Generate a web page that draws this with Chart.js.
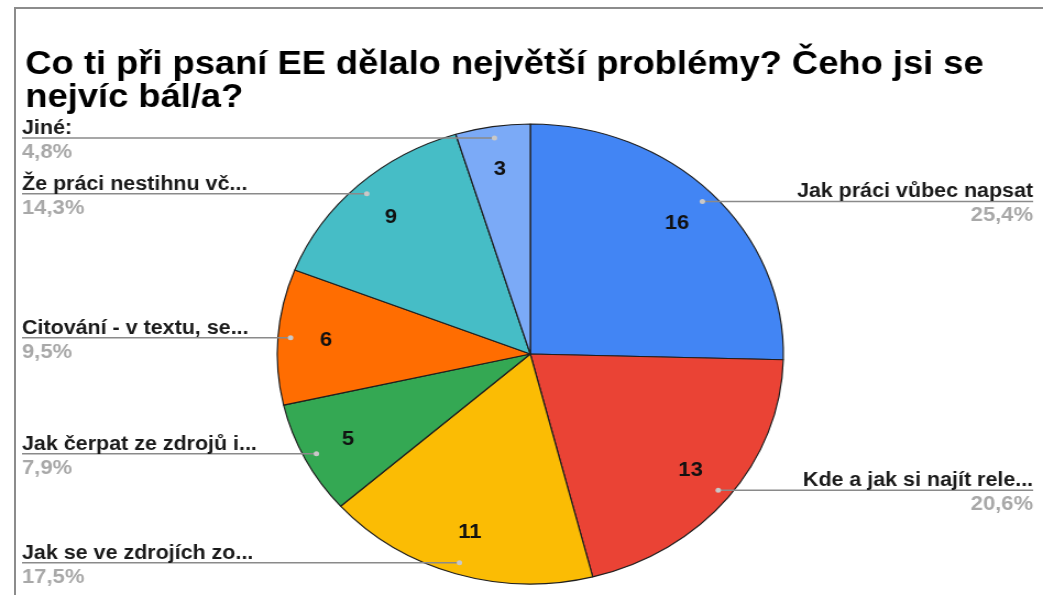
<!DOCTYPE html>
<html lang="cs">
<head>
<meta charset="utf-8">
<title>Co ti při psaní EE dělalo největší problémy?</title>
<script src="https://cdn.jsdelivr.net/npm/chart.js@4.4.1/dist/chart.umd.min.js"></script>
<style>
    html, body { margin: 0; padding: 0; background: #fff; overflow: hidden; }
    .frame {
        position: absolute; left: 14px; top: 7px; width: 1040px; height: 600px;
        border-top: 2px solid #8c8c8c; border-left: 2px solid #8c8c8c;
    }
    /* the reference screenshot is stretched horizontally */
    .stage {
        position: absolute; left: 0; top: 0; width: 948px; height: 595px;
        transform: scaleX(1.1002); transform-origin: 0 0;
    }
</style>
</head>
<body>
<div class="frame"></div>
<div class="stage"><canvas id="problemsChart"></canvas></div>
<script>
// categories, clockwise from the top
const categories = [
    'Jak práci vůbec napsat',
    'Kde a jak si najít rele...',
    'Jak se ve zdrojích zo...',
    'Jak čerpat ze zdrojů i...',
    'Citování - v textu, se...',
    'Že práci nestihnu vč...',
    'Jiné:'
];
const answers = [16, 13, 11, 5, 6, 9, 3];
const sliceColors = ['#4285f4', '#ea4335', '#fbbc04', '#34a853', '#ff6d01', '#46bdc6', '#7baaf7'];
const chartTitle = ['Co ti při psaní EE dělalo největší problémy? Čeho jsi se', 'nejvíc bál/a?'];

const FONT = '"Liberation Sans", Arial, sans-serif';

// čísla ve výsečích + popisky s vodicími čarami
const sliceLabels = {
    id: 'sliceLabels',
    afterDatasetsDraw(chart) {
        const ctx = chart.ctx;
        const meta = chart.getDatasetMeta(0);
        const total = answers.reduce((a, b) => a + b, 0);
        const leftX = 20;
        const rightX = chart.width - 9;

        meta.data.forEach((arc, i) => {
            const p = arc.getProps(['x', 'y', 'startAngle', 'endAngle', 'outerRadius'], true);
            const mid = (p.startAngle + p.endAngle) / 2;
            const cos = Math.cos(mid);
            const sin = Math.sin(mid);

            ctx.save();
            ctx.font = 'bold 20px ' + FONT;
            ctx.fillStyle = '#111';
            ctx.textAlign = 'center';
            ctx.textBaseline = 'middle';
            ctx.fillText(String(answers[i]), p.x + cos * p.outerRadius * 0.81, p.y + sin * p.outerRadius * 0.81);

            const dotX = p.x + cos * p.outerRadius * 0.95;
            const dotY = p.y + sin * p.outerRadius * 0.95;
            const right = cos >= 0;
            const endX = right ? rightX : leftX;

            ctx.strokeStyle = '#8a8a8a';
            ctx.lineWidth = 1.5;
            ctx.beginPath();
            ctx.moveTo(dotX, dotY);
            ctx.lineTo(endX, dotY);
            ctx.stroke();

            ctx.fillStyle = '#c8c8c8';
            ctx.beginPath();
            ctx.arc(dotX, dotY, 2.5, 0, Math.PI * 2);
            ctx.fill();

            const pct = (answers[i] / total * 100).toFixed(1).replace('.', ',') + '%';
            ctx.textAlign = right ? 'right' : 'left';
            ctx.textBaseline = 'alphabetic';
            ctx.font = 'bold 19.5px ' + FONT;
            ctx.fillStyle = '#1a1a1a';
            ctx.fillText(categories[i], endX, dotY - 4);
            ctx.font = 'bold 20px ' + FONT;
            ctx.fillStyle = '#a8a8a8';
            ctx.fillText(pct, endX, dotY + 20);
            ctx.restore();
        });
    }
};

new Chart(document.getElementById('problemsChart'), {
    type: 'pie',
    data: {
        labels: categories,
        datasets: [{
            data: answers,
            backgroundColor: sliceColors,
            borderColor: '#1f1f1f',
            borderWidth: 1.2
        }]
    },
    options: {
        responsive: true,
        maintainAspectRatio: false,
        animation: false,
        radius: 230,
        layout: {
            padding: { left: 23, right: 7, top: 0, bottom: 11 }
        },
        plugins: {
            legend: { display: false },
            tooltip: { enabled: false },
            title: {
                display: true,
                text: chartTitle,
                align: 'start',
                color: '#000',
                font: { family: FONT, size: 33, weight: 'bold', lineHeight: 1.0 },
                padding: { top: 48, bottom: 10 }
            }
        }
    },
    plugins: [sliceLabels]
});
</script>
</body>
</html>
